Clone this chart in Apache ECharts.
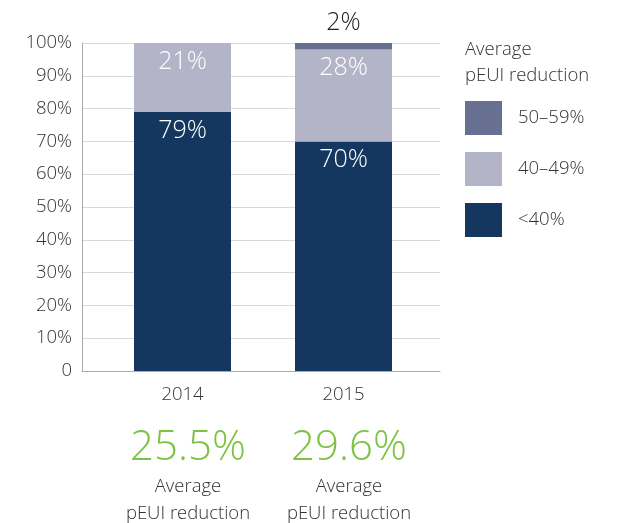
<!DOCTYPE html>
<html><head><meta charset="utf-8">
<script src="https://cdn.jsdelivr.net/npm/echarts@6/dist/echarts.min.js"></script>
<style>html,body{margin:0;padding:0;background:#fff}#c{width:620px;height:523px}</style>
</head><body><div id="c"></div>
<script>
var categories = ['2014', '2015'];
var seriesNames = ['50–59%', '40–49%', '<40%'];
var below40 = [79, 70];
var from40to49 = [21, 28];
var from50to59 = [0, 2];
var averages = ['25.5%', '29.6%'];

var FONT = '"Open Sans", Lato, sans-serif';
var chart = echarts.init(document.getElementById('c'));

function lbl(color, pos, dist) {
  return {
    show: true, position: pos, distance: dist, color: color,
    fontFamily: FONT, fontWeight: 300, fontSize: 25,
    formatter: function (p) { return p.value > 0 ? p.value + '%' : ''; }
  };
}

var graphics = [];
averages.forEach(function (a, i) {
  var cx = [188, 349][i];
  graphics.push({ type: 'text', x: cx, y: 427, style: { text: a, fill: '#7dc242', font: '300 42px ' + FONT, align: 'center' } });
  graphics.push({ type: 'text', x: cx, y: 477, style: { text: 'Average', fill: '#333', font: '300 18.5px ' + FONT, align: 'center' } });
  graphics.push({ type: 'text', x: cx, y: 504, style: { text: 'pEUI reduction', fill: '#333', font: '300 18.5px ' + FONT, align: 'center' } });
});
graphics.push({ type: 'text', x: 465, y: 37, style: { text: 'Average\npEUI reduction', fill: '#333', font: '300 18.5px ' + FONT, lineHeight: 26 } });

chart.setOption({
  animation: false,
  textStyle: { fontFamily: FONT },
  grid: [
    { left: 82, right: 180, top: 43, bottom: 152 },
    { left: 102, right: 196, top: 43, bottom: 152 }
  ],
  xAxis: [
    { gridIndex: 0, type: 'value', min: 0, max: 1, axisLine: { show: true, lineStyle: { color: '#aaa' } }, axisTick: { show: false }, axisLabel: { show: false }, splitLine: { show: false } },
    { gridIndex: 1, type: 'category', data: categories, axisLine: { show: false }, axisTick: { show: false },
      axisLabel: { color: '#333', fontSize: 18.5, fontWeight: 300, fontFamily: FONT, margin: 14 } }
  ],
  yAxis: [
    { gridIndex: 0, type: 'value', min: 0, max: 100, interval: 10,
      axisLine: { show: true, lineStyle: { color: '#aaa' } }, axisTick: { show: false },
      axisLabel: { color: '#333', fontSize: 18.5, fontWeight: 300, fontFamily: FONT, margin: 10, padding: [6, 0, 0, 0],
        formatter: function (v) { return v === 0 ? '0' : v + '%'; } },
      splitLine: { lineStyle: { color: '#d9d9d9' } } },
    { gridIndex: 1, type: 'value', min: 0, max: 100, show: false }
  ],
  legend: {
    orient: 'vertical', left: 465, top: 101, padding: 0, itemWidth: 37, itemHeight: 34, itemGap: 17,
    icon: 'rect', data: seriesNames,
    textStyle: { color: '#333', fontSize: 18.5, fontWeight: 300, fontFamily: FONT, padding: [0, 0, 0, 11] }
  },
  graphic: graphics,
  series: [
    { name: '<40%', type: 'bar', stack: 's', xAxisIndex: 1, yAxisIndex: 1, barWidth: 97, data: below40,
      itemStyle: { color: '#14375f' }, label: lbl('#fff', 'insideTop', 6) },
    { name: '40–49%', type: 'bar', stack: 's', xAxisIndex: 1, yAxisIndex: 1, barWidth: 97, data: from40to49,
      itemStyle: { color: '#b3b4c8' }, label: lbl('#fff', 'insideTop', 6) },
    { name: '50–59%', type: 'bar', stack: 's', xAxisIndex: 1, yAxisIndex: 1, barWidth: 97, data: from50to59,
      itemStyle: { color: '#677090' }, label: lbl('#222', 'top', 8) }
  ]
});
</script></body></html>
